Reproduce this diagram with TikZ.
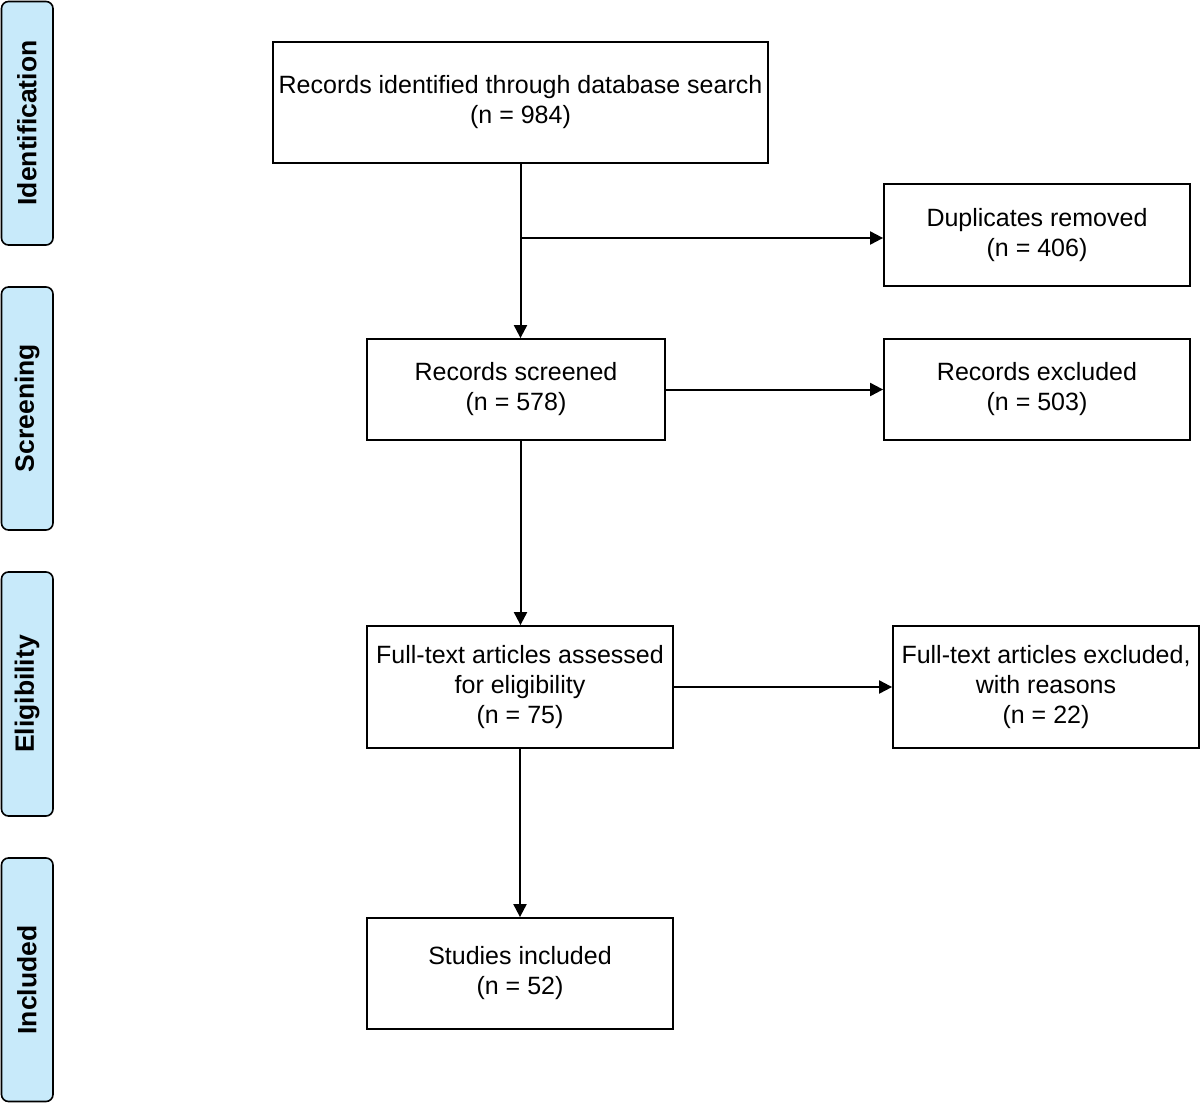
\documentclass[tikz,border=0pt]{standalone}
\usepackage{fontspec}
\setmainfont{Liberation Sans}
\usetikzlibrary{arrows.meta}
\definecolor{sidefill}{RGB}{200,234,250}
\begin{document}
\begin{tikzpicture}[x=1pt,y=-1pt,
  box/.style={draw,line width=1.8pt,align=center,inner sep=0pt,font=\fontsize{25}{30}\selectfont},
  side/.style={draw,line width=1.6pt,fill=sidefill,rounded corners=7pt},
  sidetext/.style={rotate=90,font=\bfseries\fontsize{26.5}{30}\selectfont},
  arr/.style={line width=2pt,-{Triangle[length=13pt,width=13pt]}}]
\useasboundingbox (0,0) rectangle (1200,1103);
% side labels
\draw[side] (1.5,1.5) rectangle (53,245);
\node[sidetext] (sid) at (27,123) {Identification};
\draw[side] (1.5,287) rectangle (53,530);
\node[sidetext] (sscr) at (27,408) {Screening};
\draw[side] (1.5,572) rectangle (53,816);
\node[sidetext] (selig) at (27,694) {Eligibility};
\draw[side] (1.5,858) rectangle (53,1101.5);
\node[sidetext] (sinc) at (27,980) {Included};
% boxes
\node[box,minimum width=495pt,minimum height=121pt] (b1) at (520.5,102.5) {Records identified through database search\\(n = 984)};
\node[box,minimum width=306pt,minimum height=102pt] (b2) at (1037,235) {Duplicates removed\\(n = 406)};
\node[box,minimum width=298pt,minimum height=101pt] (b3) at (516,389.5) {Records screened\\(n = 578)};
\node[box,minimum width=306pt,minimum height=101pt] (b4) at (1037,389.5) {Records excluded\\(n = 503)};
\node[box,minimum width=306pt,minimum height=122pt] (b5) at (520,687) {Full-text articles assessed\\for eligibility\\(n = 75)};
\node[box,minimum width=306pt,minimum height=122pt] (b6) at (1046,687) {Full-text articles excluded,\\with reasons\\(n = 22)};
\node[box,minimum width=306pt,minimum height=111pt] (b7) at (520,973.5) {Studies included\\(n = 52)};
% connectors
\coordinate (j1) at (520.5,238);
\draw[arr] (b1.south) -- (b1.south |- b3.north);
\draw[arr] (j1) -- (b2.west |- j1);
\draw[arr] (b3.east) -- (b4.west);
\draw[arr] (b1.south |- b3.south) -- (b1.south |- b5.north);
\draw[arr] (b5.east) -- (b6.west);
\draw[arr] (b5.south) -- (b7.north);
\end{tikzpicture}
\end{document}
